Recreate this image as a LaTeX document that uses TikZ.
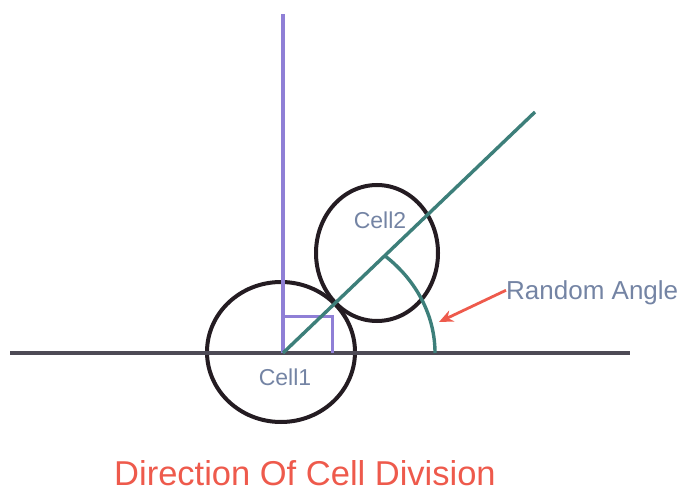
\documentclass[tikz,border=0pt]{standalone}
\usepackage{fontspec}
\setmainfont{Liberation Sans}
\usetikzlibrary{arrows.meta}
\definecolor{baseln}{HTML}{4D4A55}
\definecolor{purp}{HTML}{8F7FD6}
\definecolor{teal2}{HTML}{3D7F7A}
\definecolor{cellc}{HTML}{241C22}
\definecolor{lbl}{HTML}{7484A4}
\definecolor{redc}{HTML}{EE5A4C}
\begin{document}
\begin{tikzpicture}[x=1pt,y=-1pt,
  cellshape/.style={draw=cellc,line width=4pt},
  lbltext/.style={text=lbl,inner sep=0pt,font=\fontsize{23}{23}\selectfont},
]
\useasboundingbox (0,0) rectangle (680,492);
% cells
\draw[cellshape] (281,352) ellipse [x radius=74, y radius=70];
\draw[cellshape] (377,253) ellipse [x radius=61, y radius=68];
% coordinates
\coordinate (L) at (10,353);
\coordinate (R) at (630,353);
\coordinate (O) at (283,353);
\coordinate (T) at (283,14);
\coordinate (D) at (535,112);
\coordinate (A0) at (435,353);
% lines
\draw[baseln,line width=3.6pt] (L) -- (R);
\draw[purp,line width=3.2pt] (O) -- (T);
\draw[purp,line width=3pt] (283,316) -- (332,316) -- (332,353);
\draw[teal2,line width=3.4pt] (O) -- (D);
\draw[teal2,line width=3.4pt] (A0) arc [start angle=0, end angle=-47.9, x radius=152, y radius=131];
% labels
\node[lbltext,anchor=base] (c1) at (285,385) {Cell1};
\node[lbltext,anchor=base] (c2) at (380,228) {Cell2};
\node[text=lbl,inner sep=0pt,anchor=base west,font=\fontsize{26}{26}\selectfont] (ra) at (506,299) {Random Angle};
\coordinate (tip) at (439,322);
\draw[redc,line width=2.8pt,-{Stealth[length=14pt,width=12pt]}] (ra.west) ++(0,-2) -- (tip);
\node[text=redc,inner sep=0pt,anchor=base,font=\fontsize{34.5}{34.5}\selectfont] (title) at (305,485) {Direction Of Cell Division};
\end{tikzpicture}
\end{document}
